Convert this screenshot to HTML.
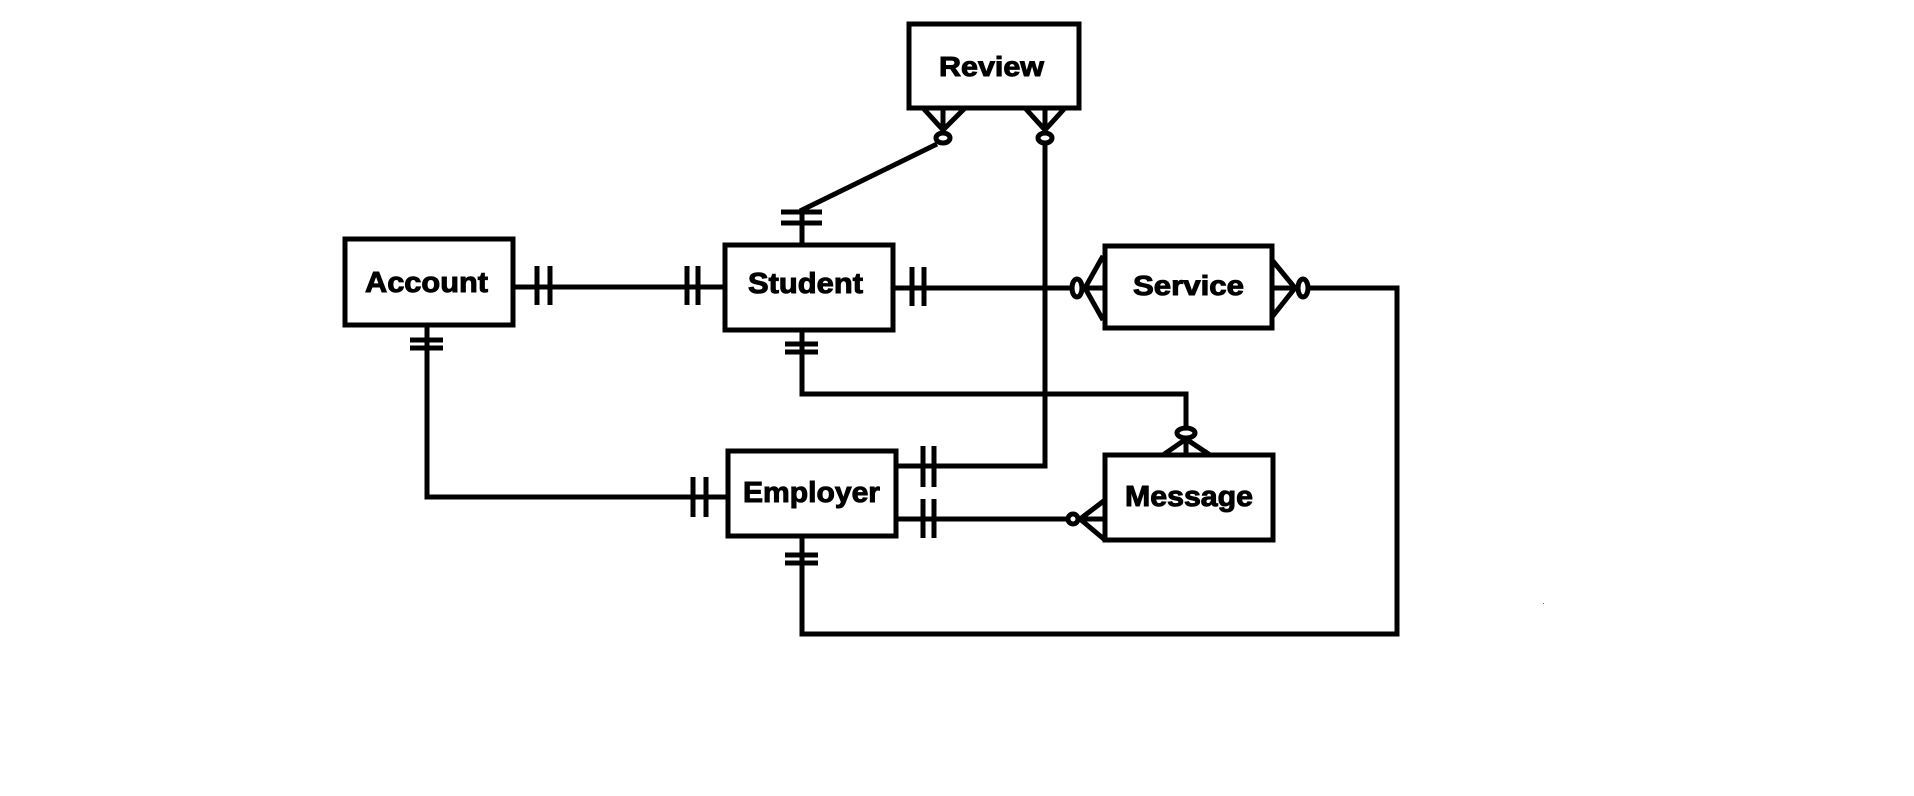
<!DOCTYPE html>
<html><head><meta charset="utf-8"><style>
html,body{margin:0;padding:0;background:#fff;}
svg{display:block;}
text{font-family:"Liberation Sans",Arial,sans-serif;font-weight:bold;fill:#000;stroke:#000;stroke-width:1;}
</style></head><body>
<svg width="1914" height="796" viewBox="0 0 1914 796" xmlns="http://www.w3.org/2000/svg">
<g fill="none" stroke="#000" stroke-width="5">
<!-- boxes -->
<rect x="909" y="24" width="170" height="84"/>
<rect x="345" y="239" width="168" height="86"/>
<rect x="725" y="245" width="168" height="85"/>
<rect x="1105" y="246" width="167" height="82"/>
<rect x="728" y="451" width="168" height="85"/>
<rect x="1105" y="455" width="168" height="85"/>

<!-- Account - Student -->
<line x1="513" y1="287" x2="725" y2="287"/>
<line x1="537" y1="266" x2="537" y2="305"/>
<line x1="550" y1="266" x2="550" y2="305"/>
<line x1="687" y1="266" x2="687" y2="305"/>
<line x1="698" y1="266" x2="698" y2="305"/>

<!-- Account - Employer -->
<polyline points="427,325 427,497 728,497"/>
<line x1="410" y1="340" x2="443" y2="340"/>
<line x1="410" y1="348" x2="443" y2="348"/>
<line x1="693" y1="477" x2="693" y2="517"/>
<line x1="706" y1="477" x2="706" y2="517"/>

<!-- Student top - Review -->
<line x1="802" y1="245" x2="802" y2="212"/>
<line x1="781" y1="212" x2="822" y2="212"/>
<line x1="781" y1="223" x2="822" y2="223"/>
<line x1="800" y1="211" x2="937" y2="144"/>
<!-- Review left crowfoot -->
<line x1="923" y1="108" x2="943" y2="130"/>
<line x1="965" y1="108" x2="943" y2="130"/>
<line x1="943" y1="108" x2="943" y2="132"/>
<ellipse cx="943" cy="138" rx="7" ry="5"/>
<!-- Review right crowfoot -->
<line x1="1025" y1="108" x2="1045" y2="130"/>
<line x1="1065" y1="108" x2="1045" y2="130"/>
<line x1="1045" y1="108" x2="1045" y2="132"/>
<ellipse cx="1045" cy="138" rx="7" ry="5"/>
<polyline points="1045,143 1045,466 896,466"/>
<line x1="923" y1="446" x2="923" y2="487"/>
<line x1="934" y1="446" x2="934" y2="487"/>

<!-- Student right - Service -->
<line x1="893" y1="288" x2="1072" y2="288"/>
<line x1="912" y1="267" x2="912" y2="306"/>
<line x1="924" y1="267" x2="924" y2="306"/>
<ellipse cx="1077" cy="288" rx="5" ry="9"/>
<line x1="1082" y1="288" x2="1105" y2="288"/>
<line x1="1085" y1="288" x2="1103" y2="256"/>
<line x1="1085" y1="288" x2="1103" y2="320"/>

<!-- Service right - Employer bottom -->
<line x1="1272" y1="260" x2="1295" y2="288"/>
<line x1="1272" y1="317" x2="1295" y2="288"/>
<line x1="1272" y1="288" x2="1298" y2="288"/>
<ellipse cx="1303" cy="288" rx="5" ry="9"/>
<polyline points="1308,288 1397,288 1397,634 802,634 802,536"/>
<line x1="785" y1="555" x2="818" y2="555"/>
<line x1="785" y1="563" x2="818" y2="563"/>

<!-- Student bottom - Message top -->
<polyline points="802,330 802,394 1186,394 1186,427"/>
<line x1="785" y1="344" x2="818" y2="344"/>
<line x1="785" y1="352" x2="818" y2="352"/>
<ellipse cx="1186" cy="433" rx="9" ry="5"/>
<line x1="1186" y1="438" x2="1186" y2="455"/>
<line x1="1186" y1="439" x2="1163" y2="455"/>
<line x1="1186" y1="439" x2="1210" y2="455"/>

<!-- Employer - Message -->
<line x1="896" y1="519" x2="1068" y2="519"/>
<line x1="923" y1="499" x2="923" y2="538"/>
<line x1="934" y1="499" x2="934" y2="538"/>
<ellipse cx="1073" cy="519" rx="5" ry="5"/>
<line x1="1078" y1="519" x2="1105" y2="519"/>
<line x1="1080" y1="519" x2="1105" y2="500"/>
<line x1="1080" y1="519" x2="1105" y2="540"/>
</g>
<rect x="1543" y="603" width="1" height="1" fill="#666"/>

<text x="939" y="76" font-size="28" textLength="105" lengthAdjust="spacingAndGlyphs">Review</text>
<text x="365" y="292" font-size="29" textLength="123" lengthAdjust="spacingAndGlyphs">Account</text>
<text x="748" y="293" font-size="29" textLength="115" lengthAdjust="spacingAndGlyphs">Student</text>
<text x="1133" y="295" font-size="28" textLength="111" lengthAdjust="spacingAndGlyphs">Service</text>
<text x="743" y="502" font-size="29" textLength="137" lengthAdjust="spacingAndGlyphs">Employer</text>
<text x="1125" y="506" font-size="29" textLength="128" lengthAdjust="spacingAndGlyphs">Message</text>
</svg>
</body></html>
